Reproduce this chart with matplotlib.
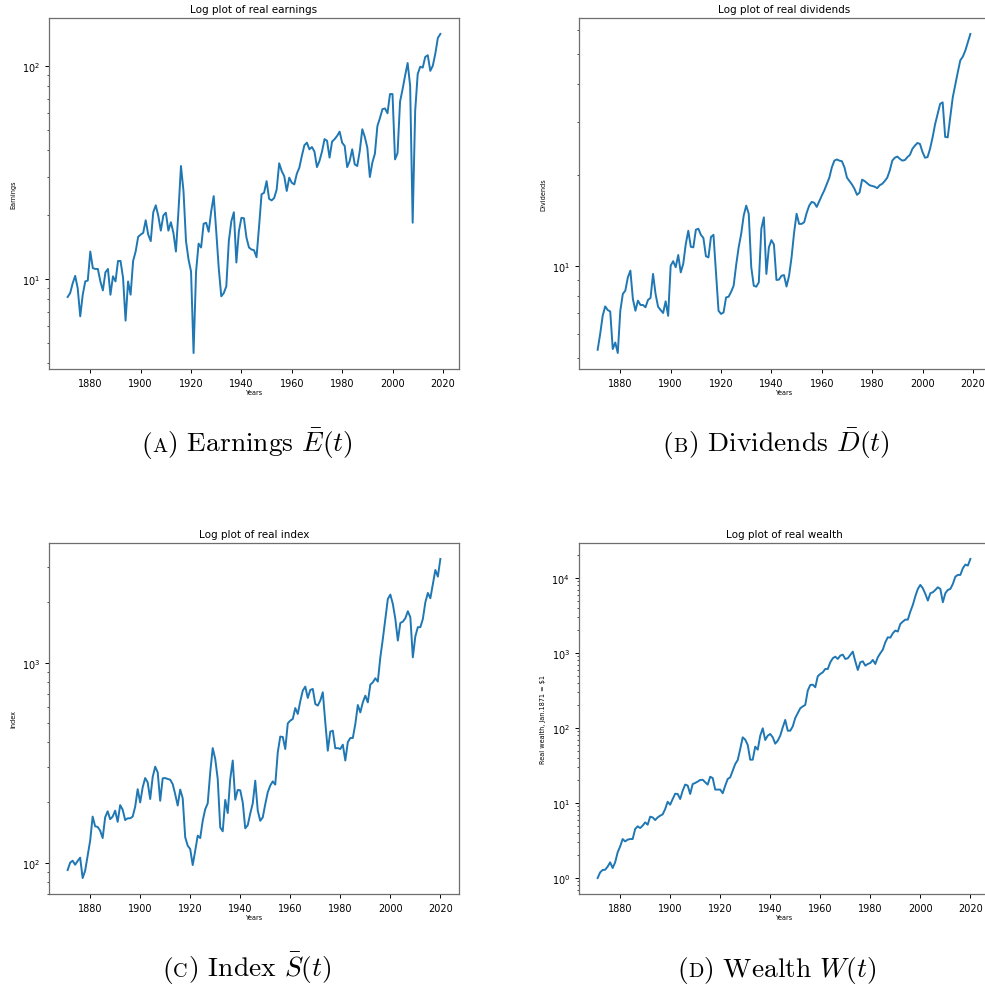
import numpy as np
import matplotlib
matplotlib.use('Agg')
import matplotlib.pyplot as plt

# real earnings, 1871-2019
years_earn = np.arange(1871, 2020)
earnings = [8.2, 8.55, 9.5, 10.3, 9.0, 6.65, 8.4, 9.7, 9.8, 13.4,
            11.2, 11.1, 11.1, 9.7, 8.8, 10.7, 11.1, 8.4, 10.25, 9.7,
            12.1, 12.1, 10.1, 6.35, 9.7, 8.4, 12.1, 13.4, 15.7, 16.1,
            16.4, 18.8, 16.1, 15.0, 20.5, 22.1, 19.7, 16.8, 19.8, 20.4,
            16.8, 18.4, 16.4, 13.4, 20.7, 33.8, 25.8, 15.0, 12.3, 10.8,
            4.47, 10.8, 14.6, 14.0, 18.1, 18.3, 16.6, 20.7, 24.4, 16.7,
            11.2, 8.26, 8.55, 9.2, 15.0, 18.6, 20.5, 11.9, 16.7, 19.3,
            19.2, 15.6, 14.0, 13.7, 13.6, 12.6, 17.5, 24.9, 25.3, 28.7,
            23.7, 23.3, 23.9, 26.2, 34.8, 32.0, 30.3, 25.8, 29.8, 28.2,
            27.7, 31.1, 33.2, 37.7, 42.3, 43.5, 40.5, 41.5, 39.5, 33.4,
            35.7, 39.5, 45.2, 44.4, 37.0, 44.0, 45.2, 46.8, 49.0, 43.5,
            42.0, 33.4, 35.7, 40.5, 34.4, 33.8, 39.8, 50.3, 46.3, 41.2,
            30.0, 35.1, 38.6, 52.1, 56.7, 62.5, 63.0, 59.8, 73.6, 73.6,
            36.3, 38.9, 67.9, 77.6, 89.8, 103, 80.5, 18.3, 61.4, 91.4,
            98.9, 98, 110, 112, 94.6, 100, 114, 135, 141]

# real dividends, 1871-2019
years_div = np.arange(1871, 2020)
dividends = [5.31, 5.98, 6.87, 7.38, 7.18, 7.1, 5.34, 5.61, 5.18, 7.14,
             8.11, 8.32, 9.2, 9.68, 7.8, 7.14, 7.71, 7.46, 7.46, 7.33,
             7.75, 7.87, 9.44, 8.11, 7.36, 7.18, 7.02, 7.67, 6.87, 10.05,
             10.4, 9.93, 10.9, 9.55, 10.2, 11.85, 13.1, 11.6, 11.55, 13.2,
             13.3, 12.7, 12.4, 10.8, 10.7, 12.5, 12.7, 9.55, 7.14, 6.97,
             7.05, 7.9, 7.94, 8.24, 8.63, 10.1, 11.55, 12.8, 14.7, 15.85,
             14.9, 9.93, 8.63, 8.57, 8.86, 13.3, 14.5, 9.44, 11.55, 12.2,
             11.8, 9.02, 9.04, 9.31, 9.36, 8.58, 9.3, 10.7, 12.9, 14.9,
             13.8, 13.8, 13.97, 15.0, 15.85, 16.3, 16.2, 15.7, 16.4, 17.1,
             17.8, 18.7, 19.6, 21.2, 22.3, 22.5, 22.3, 22.2, 21.2, 19.6,
             19.1, 18.6, 18.0, 17.2, 17.5, 19.3, 19.1, 18.8, 18.5, 18.4,
             18.3, 18.1, 18.5, 18.7, 19.1, 19.6, 20.7, 22.3, 22.8, 23.0,
             22.6, 22.3, 22.4, 22.9, 23.3, 24.4, 25.0, 25.5, 25.3, 23.8,
             22.8, 22.9, 24.4, 26.6, 29.4, 31.8, 34.3, 34.7, 26.7, 26.6,
             31.0, 36.0, 39.7, 43.6, 47.7, 49.1, 51.4, 54.7, 58.3]

# real index, 1871-2020
years_idx = np.arange(1871, 2021)
index = [91.9, 100, 102.3, 97.7, 102, 106, 83.8, 91.2, 108.4, 128.8,
         170, 152, 151, 144.6, 132.8, 168.6, 180.7, 165, 170, 182,
         160, 194, 184, 163.4, 166.7, 166.7, 170, 190.5, 233, 200,
         238, 265, 252, 208, 268, 302, 283, 204, 264, 265,
         262, 260, 247, 220, 193, 232, 210, 134, 121.6, 117,
         97.3, 114.8, 136.5, 132.8, 162, 185, 198, 283, 374, 330,
         262, 150, 143.5, 206, 177, 262, 324, 206.5, 231, 230,
         200, 148.5, 154, 176, 198, 257, 182, 162, 168.6, 196,
         225, 243, 255, 245.6, 356, 427, 425, 370, 497, 513,
         523, 593, 554, 641, 725, 759, 666, 730, 739, 621,
         610, 646, 711, 503, 363, 452, 457, 373, 374, 370,
         389, 324, 400, 420, 420, 493, 614, 564, 633, 684,
         633, 776, 797, 835, 804, 1063, 1313, 1653, 2081, 2188,
         1965, 1653, 1289, 1579, 1603, 1667, 1807, 1686, 1063, 1355,
         1504, 1504, 1653, 2003, 2230, 2098, 2473, 2905, 2692, 3298]

# real wealth (Jan 1871 = $1), 1871-2020
years_wealth = np.arange(1871, 2021)
wealth = [1.0, 1.19, 1.28, 1.29, 1.42, 1.62, 1.36, 1.62, 2.2, 2.64,
          3.31, 3.08, 3.25, 3.31, 3.31, 4.5, 4.89, 4.64, 4.99, 5.52,
          5.14, 6.57, 6.43, 5.93, 6.43, 6.78, 7.06, 8.32, 10.4, 9.5,
          11.3, 13.3, 13.2, 11.3, 14.6, 17.6, 17.1, 13.2, 17.9, 18.5,
          19.3, 20.3, 20.4, 18.9, 17.6, 22.4, 21.5, 15.1, 15.1, 15.1,
          13.5, 17.0, 20.9, 22.0, 27.0, 33.1, 37.4, 52.5, 75.1, 69.9,
          59.3, 37.8, 37.8, 56.4, 51.4, 79, 99, 69.2, 79, 83.2,
          75.1, 61.8, 67.8, 79, 102, 128, 92, 92, 105, 136,
          158, 183, 194, 203, 315, 374, 378, 349, 489, 525,
          552, 612, 612, 751, 849, 893, 832, 921, 950, 832,
          849, 941, 1042, 774, 593, 751, 774, 678, 713, 736,
          807, 713, 875, 990, 1107, 1387, 1618, 1600, 1829, 1986,
          1930, 2436, 2618, 2781, 2781, 3555, 4365, 5700, 7130, 8070,
          7280, 6120, 4990, 6250, 6440, 6920, 7510, 7130, 4740, 6250,
          6920, 7130, 8320, 10400, 10970, 10970, 13460, 15060, 14600, 17900]

W, H = 985, 987
fig = plt.figure(figsize=(W / 100, H / 100), dpi=100)


def panel(left, top, x, y, title, ylabel):
    # left/top in pixels of the final picture
    ax = fig.add_axes([left / W, 1 - (top + 351) / H, 410 / W, 351 / H])
    ax.plot(x, y, color='#1f77b4', lw=1.4)
    ax.set_yscale('log')
    ax.set_title(title, fontsize=7.5, pad=4)
    ax.set_xlabel('Years', fontsize=4.7, labelpad=1)
    ax.set_ylabel(ylabel, fontsize=4.7)
    ax.tick_params(labelsize=7, length=3, width=0.7)
    ax.tick_params(which='minor', length=1.8, width=0.5)
    for s in ax.spines.values():
        s.set_color('#6e6e6e')
        s.set_linewidth(0.9)
    return ax


panel(49, 19, years_earn, earnings, 'Log plot of real earnings', 'Earnings')
panel(579, 19, years_div, dividends, 'Log plot of real dividends', 'Dividends')
panel(49, 544, years_idx, index, 'Log plot of real index', 'Index')
panel(579, 544, years_wealth, wealth, 'Log plot of real wealth',
      r'Real wealth, Jan.1871 = \$1')


def caption(xc, base, letter, rest):
    r = fig.canvas.get_renderer()
    kw = dict(family='cmr10', va='baseline', ha='left', math_fontfamily='cm')
    parts = [fig.text(0, 1 - base / H, '(', fontsize=19.8, **kw),
             fig.text(0, 1 - base / H, letter, fontsize=14.5, **kw),
             fig.text(0, 1 - base / H, ') ' + rest, fontsize=19.8, **kw)]
    widths = [p.get_window_extent(r).width for p in parts]
    x = xc - sum(widths) / 2
    for p, w in zip(parts, widths):
        p.set_x(x / W)
        x += w


caption(247, 452, 'A', r'Earnings $\bar{E}(t)$')
caption(776, 452, 'B', r'Dividends $\bar{D}(t)$')
caption(247, 977, 'C', r'Index $\bar{S}(t)$')
caption(777, 977, 'D', r'Wealth $W(t)$')

fig.savefig('out.png', dpi=100)
